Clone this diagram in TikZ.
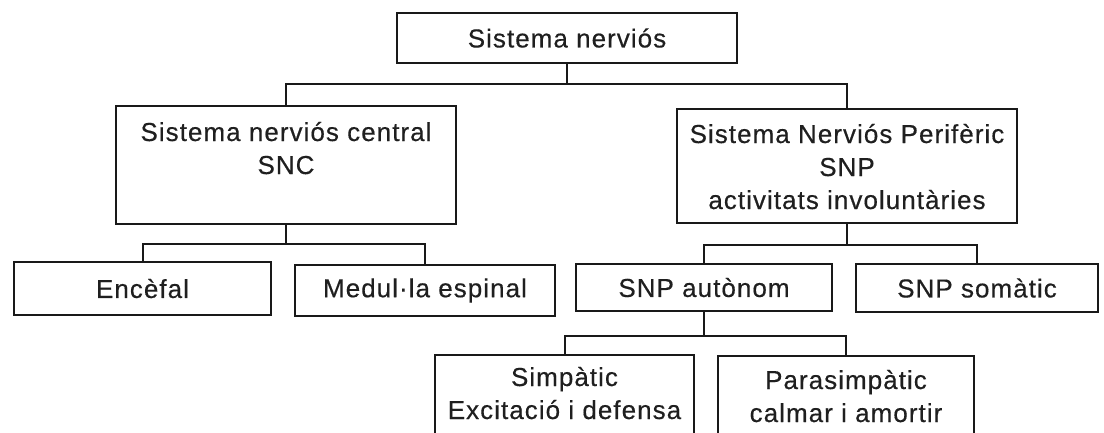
\documentclass[tikz,border=0pt]{standalone}
\usepackage{fontspec}
\setmainfont{Liberation Sans}[LetterSpace=4, FakeBold=0.4]
\begin{document}
\begin{tikzpicture}[x=1pt,y=-1pt,
  box/.style={draw=black!90, line width=2pt, rectangle, inner sep=0pt,
    text=black!88, font=\fontsize{26}{33}\selectfont, align=center},
  link/.style={draw=black!90, line width=2pt}]
\path[use as bounding box] (0,0) rectangle (1104,432);
\begin{scope}
\clip (0,0) rectangle (1104,432);
\node[box, minimum width=340pt, minimum height=50pt] (top) at (567,38) {Sistema nerviós};
\node[box, anchor=north west] (snc) at (115,105)
  {\parbox[t][118pt][t]{340pt}{\centering\rule{0pt}{35pt}Sistema nerviós central\\SNC}};
\node[box, anchor=north west] (snp) at (676,108)
  {\parbox[t][114pt][t]{340pt}{\centering\rule{0pt}{34pt}Sistema Nerviós Perifèric\\SNP\\activitats involuntàries}};
\node[box, minimum width=257pt, minimum height=53pt] (enc) at (142.5,288.5) {Encèfal};
\node[box, minimum width=260pt, minimum height=51pt] (med) at (425,290.5) {Medul·la espinal};
\node[box, minimum width=256pt, minimum height=47pt] (aut) at (704,287.5) {SNP autònom};
\node[box, minimum width=242pt, minimum height=48pt] (som) at (977,288) {SNP somàtic};
\node[box, anchor=north west] (simp) at (434,354)
  {\parbox[t][100pt][t]{259pt}{\centering\rule{0pt}{31pt}Simpàtic\\Excitació i defensa}};
\node[box, anchor=north west] (para) at (717,355)
  {\parbox[t][100pt][t]{256pt}{\centering\rule{0pt}{33pt}Parasimpàtic\\calmar i amortir}};
\draw[link] (top.south) -- ++(0,20) -| (snc.north);
\draw[link] (top.south) ++(0,20) -| (snp.north);
\draw[link] (snc.south) -- ++(0,19) -| (enc.north);
\draw[link] (snc.south) ++(0,19) -| (med.north);
\draw[link] (snp.south) -- ++(0,21) -| (aut.north);
\draw[link] (snp.south) ++(0,21) -| (som.north);
\draw[link] (aut.south) -- ++(0,24) -| (simp.north);
\draw[link] (aut.south) ++(0,24) -| (para.north);
\end{scope}
\end{tikzpicture}
\end{document}
